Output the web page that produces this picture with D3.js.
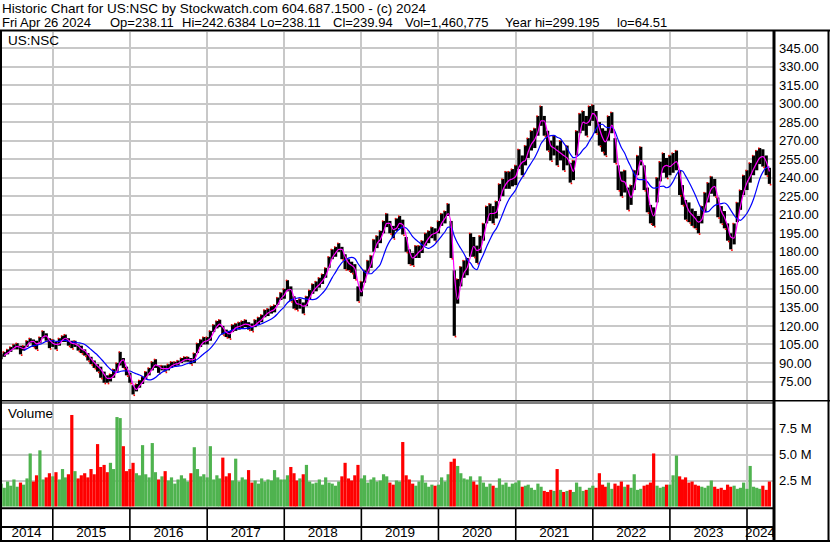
<!DOCTYPE html>
<html><head><meta charset="utf-8">
<script src="https://cdn.jsdelivr.net/npm/d3@7"></script>
<style>html,body{margin:0;padding:0;background:#fff;}svg{display:block;font-family:"Liberation Sans",Arial,sans-serif;}</style>
</head><body><svg id="c" width="830" height="543"></svg>
<script>
// ---- data (semi-monthly: 1st and 16th of each month, May 2014 .. Apr 2024) ----
const startMonth = new Date(2014, 4, 1);
const endMonth = new Date(2024, 4, 1);
const closes = [
95,97,99,101,103,104,101,102,106,108,107,104,109,113,111,106,
106,104,107,110,110,107,105,106,102,101,99,95,92,89,86,84,78,77,78,81,86,95,90,83,
78,67,70,73,76,80,83,87,90,85,86,85,86,89,89,90,92,93,93,92,94,102,106,108,
108,112,118,121,122,116,114,113,118,119,120,121,122,120,119,122,124,126,130,131,133,134,140,144,
146,152,147,139,137,138,134,140,145,150,152,155,158,163,172,178,180,184,180,172,170,168,165,145,
150,160,168,172,185,188,192,200,206,200,196,202,204,200,186,176,174,180,180,184,190,192,196,194,
200,206,208,214,190,135,148,160,166,168,185,184,178,186,196,210,212,210,214,228,232,238,238,240,
242,255,250,258,264,270,272,282,290,282,270,262,266,258,262,254,258,244,246,268,284,286,282,290,
294,285,275,270,268,280,285,262,240,235,238,222,226,238,250,258,240,222,210,208,230,245,252,248,
250,252,254,236,226,214,212,208,206,202,210,220,228,234,232,216,210,206,196,188,194,212,222,234,
238,244,250,254,258,256,250,240];
const highs = [
97,99,101,103,105,106,104,104,108,110,109,108,111,116,114,110,
109,107,110,112,113,110,108,108,105,104,101,98,95,92,89,87,83,80,81,85,90,99,94,87,
82,72,73,76,79,83,86,91,93,88,88,88,89,91,91,92,94,95,95,94,98,106,109,111,
111,116,121,124,125,120,117,116,121,122,123,124,125,123,122,125,127,129,133,134,136,137,143,147,
150,157,152,144,141,142,139,144,149,154,156,159,162,167,176,182,184,187,184,178,174,172,170,152,
156,165,173,177,190,193,197,205,211,205,201,207,209,206,192,182,179,185,185,189,195,197,200,199,
205,211,213,219,205,165,158,168,173,175,195,192,185,193,203,217,219,217,221,235,239,245,245,247,
250,263,258,266,272,278,280,290,298,290,278,270,274,266,270,262,266,252,254,278,292,294,290,298,
299,294,285,280,278,290,293,272,250,245,246,232,234,246,258,265,250,232,218,216,240,253,260,256,
258,260,262,246,234,222,220,215,213,209,217,228,236,241,239,224,217,213,203,195,203,220,230,242,
246,252,258,262,264,263,258,248];
const lows = [
93,95,97,99,101,101,97,100,103,106,103,101,106,110,108,102,
103,101,104,107,107,104,102,103,100,98,96,92,89,86,83,78,74,74,75,78,83,88,86,80,
74,64.5,67,70,73,77,80,84,86,82,84,83,84,86,87,88,90,91,91,89,90,98,103,105,
105,108,115,118,119,113,111,110,115,116,117,118,119,117,116,119,121,123,127,128,130,131,137,141,
142,148,140,134,133,134,130,136,141,146,148,151,154,159,167,174,176,180,174,166,165,163,158,140,
144,155,163,167,180,183,187,195,200,195,191,197,199,194,180,170,169,175,175,179,185,187,191,189,
195,201,203,209,175,112,138,152,159,161,176,176,171,179,189,203,205,203,207,221,225,231,231,233,
234,247,242,250,256,262,264,274,282,274,262,254,258,250,254,246,250,236,238,258,276,278,274,282,
286,276,266,261,258,270,276,252,230,225,228,214,218,230,242,250,230,212,203,201,220,237,244,240,
242,244,246,226,218,206,204,201,199,195,203,212,220,227,225,208,203,199,189,182,186,204,214,226,
230,236,242,246,251,249,242,235];
const volumes = [ // millions
2.2,1.8,2.4,2.0,2.6,1.9,2.3,2.1,2.7,5.1,2.4,3.0,5.4,2.6,2.8,3.2,
2.9,3.3,2.6,3.6,2.8,3.1,8.8,3.4,2.7,3.0,3.2,2.8,3.6,3.1,6.0,3.8,4.0,3.3,4.2,3.6,8.6,8.5,5.8,3.4,
3.6,4.2,3.2,3.0,5.9,3.1,2.8,6.1,3.3,2.6,2.9,3.4,2.5,2.8,2.2,2.6,3.0,2.7,2.4,3.2,5.7,3.6,2.9,3.1,
2.8,5.8,2.6,3.0,2.7,4.7,2.9,3.2,2.5,4.6,2.4,2.8,2.6,3.5,2.3,2.5,2.2,2.7,2.4,2.6,2.5,3.5,2.8,2.6,
2.6,3.0,3.8,3.2,2.5,2.7,3.1,4.0,2.4,2.2,2.3,2.6,2.1,2.8,2.3,2.2,2.0,2.4,2.9,4.2,2.7,2.5,3.0,4.0,
2.7,3.0,2.3,2.6,2.8,2.4,2.5,3.1,2.9,2.3,2.1,2.5,2.4,6.2,3.0,2.6,2.2,2.0,2.4,3.0,2.3,1.9,2.1,2.0,
2.1,2.8,2.4,3.1,4.3,4.6,3.9,3.2,2.7,2.6,2.9,2.4,2.1,2.9,2.3,1.9,2.2,2.0,1.8,2.7,2.1,2.3,1.9,2.2,
2.3,2.5,1.9,2.0,2.1,1.8,1.6,2.2,1.9,1.5,1.4,1.6,1.5,3.6,1.6,1.4,1.5,1.6,1.4,2.3,1.9,1.5,1.6,1.8,
2.0,1.8,3.2,2.1,1.9,2.3,1.7,2.2,2.0,2.4,1.9,2.1,1.8,3.1,1.6,1.7,2.0,2.1,2.3,5.1,2.0,1.8,1.9,2.1,
2.1,3.0,4.9,2.9,2.6,2.8,2.3,2.4,2.1,2.0,1.9,1.8,2.0,2.5,1.9,1.7,1.8,1.6,2.1,1.9,2.0,1.7,1.8,2.3,
1.7,3.9,1.9,1.8,1.7,2.0,1.6,2.4];
const priceTicks = [75,90,105,120,135,150,165,180,195,210,225,240,255,270,285,300,315,330,345];
const volumeTicks = [2.5,5.0,7.5];
const yearLabels = ["2014","2015","2016","2017","2018","2019","2020","2021","2022","2023","2024"];
const headerTitle = "Historic Chart for US:NSC by Stockwatch.com 604.687.1500 - (c) 2024";
const headerFields = ["Fri Apr 26 2024","Op=238.11","Hi=242.6384","Lo=238.11","Cl=239.94","Vol=1,460,775","Year hi=299.195","lo=64.51"];
const headerFieldX = [2,110,182,260,333,405,505,617];
const symbolLabel = "US:NSC";
const volumeLabel = "Volume";
const fastWindow = 2, slowWindow = 8;

// ---- build ----
const dates = [];
d3.timeMonth.range(startMonth, endMonth).forEach(m => {
  dates.push(m); dates.push(new Date(m.getFullYear(), m.getMonth(), 16));
});
const rows = dates.map((d, i) => ({d, c: closes[i], h: highs[i], l: lows[i], v: volumes[i],
  up: i === 0 ? true : closes[i] >= closes[i-1]}));
function sma(n) { return rows.map((r, i) => i < n-1 ? null : d3.mean(rows.slice(i-n+1, i+1), q => q.c)); }
const fast = sma(fastWindow), slow = sma(slowWindow);

const svg = d3.select("#c");
const W = 830, plotR = 773;
const x = d3.scaleTime().domain([new Date(2014,3,26), new Date(2024,3,26)]).range([0, 771.5]);
const y = d3.scaleLinear().domain([75,345]).range([381.5,48]);
const yv = d3.scaleLinear().domain([0,7.5]).range([506.5,428.5]);

const defs = svg.append("defs");
defs.append("clipPath").attr("id","cp").append("rect").attr("x",2).attr("y",32).attr("width",plotR-2).attr("height",368);
defs.append("clipPath").attr("id","cv").append("rect").attr("x",2).attr("y",404).attr("width",plotR-2).attr("height",103);

const yearBounds = d3.timeYear.range(new Date(2015,0,1), new Date(2024,1,1));
const grid = svg.append("g").attr("stroke","#c8c8c8").attr("stroke-width",2);
priceTicks.forEach(t => grid.append("line").attr("x1",2).attr("x2",plotR).attr("y1",Math.round(y(t))).attr("y2",Math.round(y(t))));
volumeTicks.forEach(t => grid.append("line").attr("x1",2).attr("x2",plotR).attr("y1",Math.round(yv(t))).attr("y2",Math.round(yv(t))));
yearBounds.forEach(d => {
  const xx = Math.round(x(d));
  grid.append("line").attr("x1",xx).attr("x2",xx).attr("y1",32).attr("y2",400);
  grid.append("line").attr("x1",xx).attr("x2",xx).attr("y1",404).attr("y2",507);
});

// volume
svg.append("g").attr("clip-path","url(#cv)").selectAll("rect").data(rows).join("rect")
  .attr("x", r => x(r.d) - 1.6).attr("width", 3.2)
  .attr("y", r => yv(r.v)).attr("height", r => yv(0) - yv(r.v))
  .attr("fill", r => r.up ? "#4fb34f" : "#ff0000");

// price bars
const pg = svg.append("g").attr("clip-path","url(#cp)");
pg.selectAll("rect.b").data(rows).join("rect").attr("class","b")
  .attr("x", r => x(r.d) - 1.6).attr("width", 3.2)
  .attr("y", r => y(r.h)).attr("height", r => y(r.l) - y(r.h)).attr("fill","#000");
pg.selectAll("rect.t").data(rows.filter(r => !r.up)).join("rect").attr("class","t")
  .attr("x", r => x(r.d) + 0.4).attr("width", 1.6)
  .attr("y", r => y(r.l)).attr("height", 1.6).attr("fill","#ff0000");
pg.selectAll("rect.u").data(rows.filter(r => r.up)).join("rect").attr("class","u")
  .attr("x", r => x(r.d) - 1.6).attr("width", 1.4)
  .attr("y", r => y(r.h) - 0.6).attr("height", 1.4).attr("fill","#ff0000");
const line = arr => d3.line().defined((r,i) => arr[i] != null).x(r => x(r.d)).y((r,i) => y(arr[i])).curve(d3.curveMonotoneX)(rows);
pg.append("path").attr("d", line(slow)).attr("fill","none").attr("stroke","#0000ff").attr("stroke-width",1.2);
pg.append("path").attr("d", line(fast)).attr("fill","none").attr("stroke","#ff00ff").attr("stroke-width",1.2);

// frame
const fr = svg.append("g").attr("stroke","#000");
fr.append("line").attr("x1",0).attr("x2",W).attr("y1",30.5).attr("y2",30.5).attr("stroke-width",2);
fr.append("line").attr("x1",1).attr("x2",1).attr("y1",30).attr("y2",542).attr("stroke-width",2);
fr.append("line").attr("x1",828.5).attr("x2",828.5).attr("y1",30).attr("y2",542).attr("stroke-width",2);
fr.append("line").attr("x1",0).attr("x2",W).attr("y1",541).attr("y2",541).attr("stroke-width",2);
fr.append("line").attr("x1",774).attr("x2",774).attr("y1",30).attr("y2",542).attr("stroke-width",3);
fr.append("line").attr("x1",0).attr("x2",W).attr("y1",400.75).attr("y2",400.75).attr("stroke-width",1.5);
fr.append("line").attr("x1",0).attr("x2",plotR).attr("y1",403).attr("y2",403).attr("stroke-width",1.2);
fr.append("line").attr("x1",0).attr("x2",plotR).attr("y1",508.3).attr("y2",508.3).attr("stroke-width",2);
fr.append("line").attr("x1",0).attr("x2",plotR).attr("y1",527).attr("y2",527).attr("stroke-width",2);
yearBounds.forEach(d => {
  const xx = x(d);
  fr.append("line").attr("x1",xx).attr("x2",xx).attr("y1",508).attr("y2",541).attr("stroke-width",1.6);
});

// text
const tx = svg.append("g").attr("font-size",13.5).attr("fill","#000");
tx.append("text").attr("x",2).attr("y",12.5).text(headerTitle);
headerFields.forEach((f, i) => tx.append("text").attr("x",headerFieldX[i]).attr("y",26.7).attr("font-size",13).text(f));
tx.append("text").attr("x",8).attr("y",45).text(symbolLabel);
tx.append("text").attr("x",8).attr("y",418).text(volumeLabel);
priceTicks.forEach(t => tx.append("text").attr("x",779).attr("y",y(t)).attr("dy","0.36em").attr("font-size",13).text(t.toFixed(2)));
volumeTicks.forEach(t => tx.append("text").attr("x",779).attr("y",yv(t)).attr("dy","0.36em").attr("font-size",13).text(t.toFixed(1) + " M"));
const bounds = [x.range()[0]].concat(yearBounds.map(x)).concat([plotR]);
yearLabels.forEach((lab, i) => tx.append("text").attr("x",(bounds[i]+bounds[i+1])/2).attr("y",537).attr("text-anchor","middle").text(lab));
</script></body></html>
